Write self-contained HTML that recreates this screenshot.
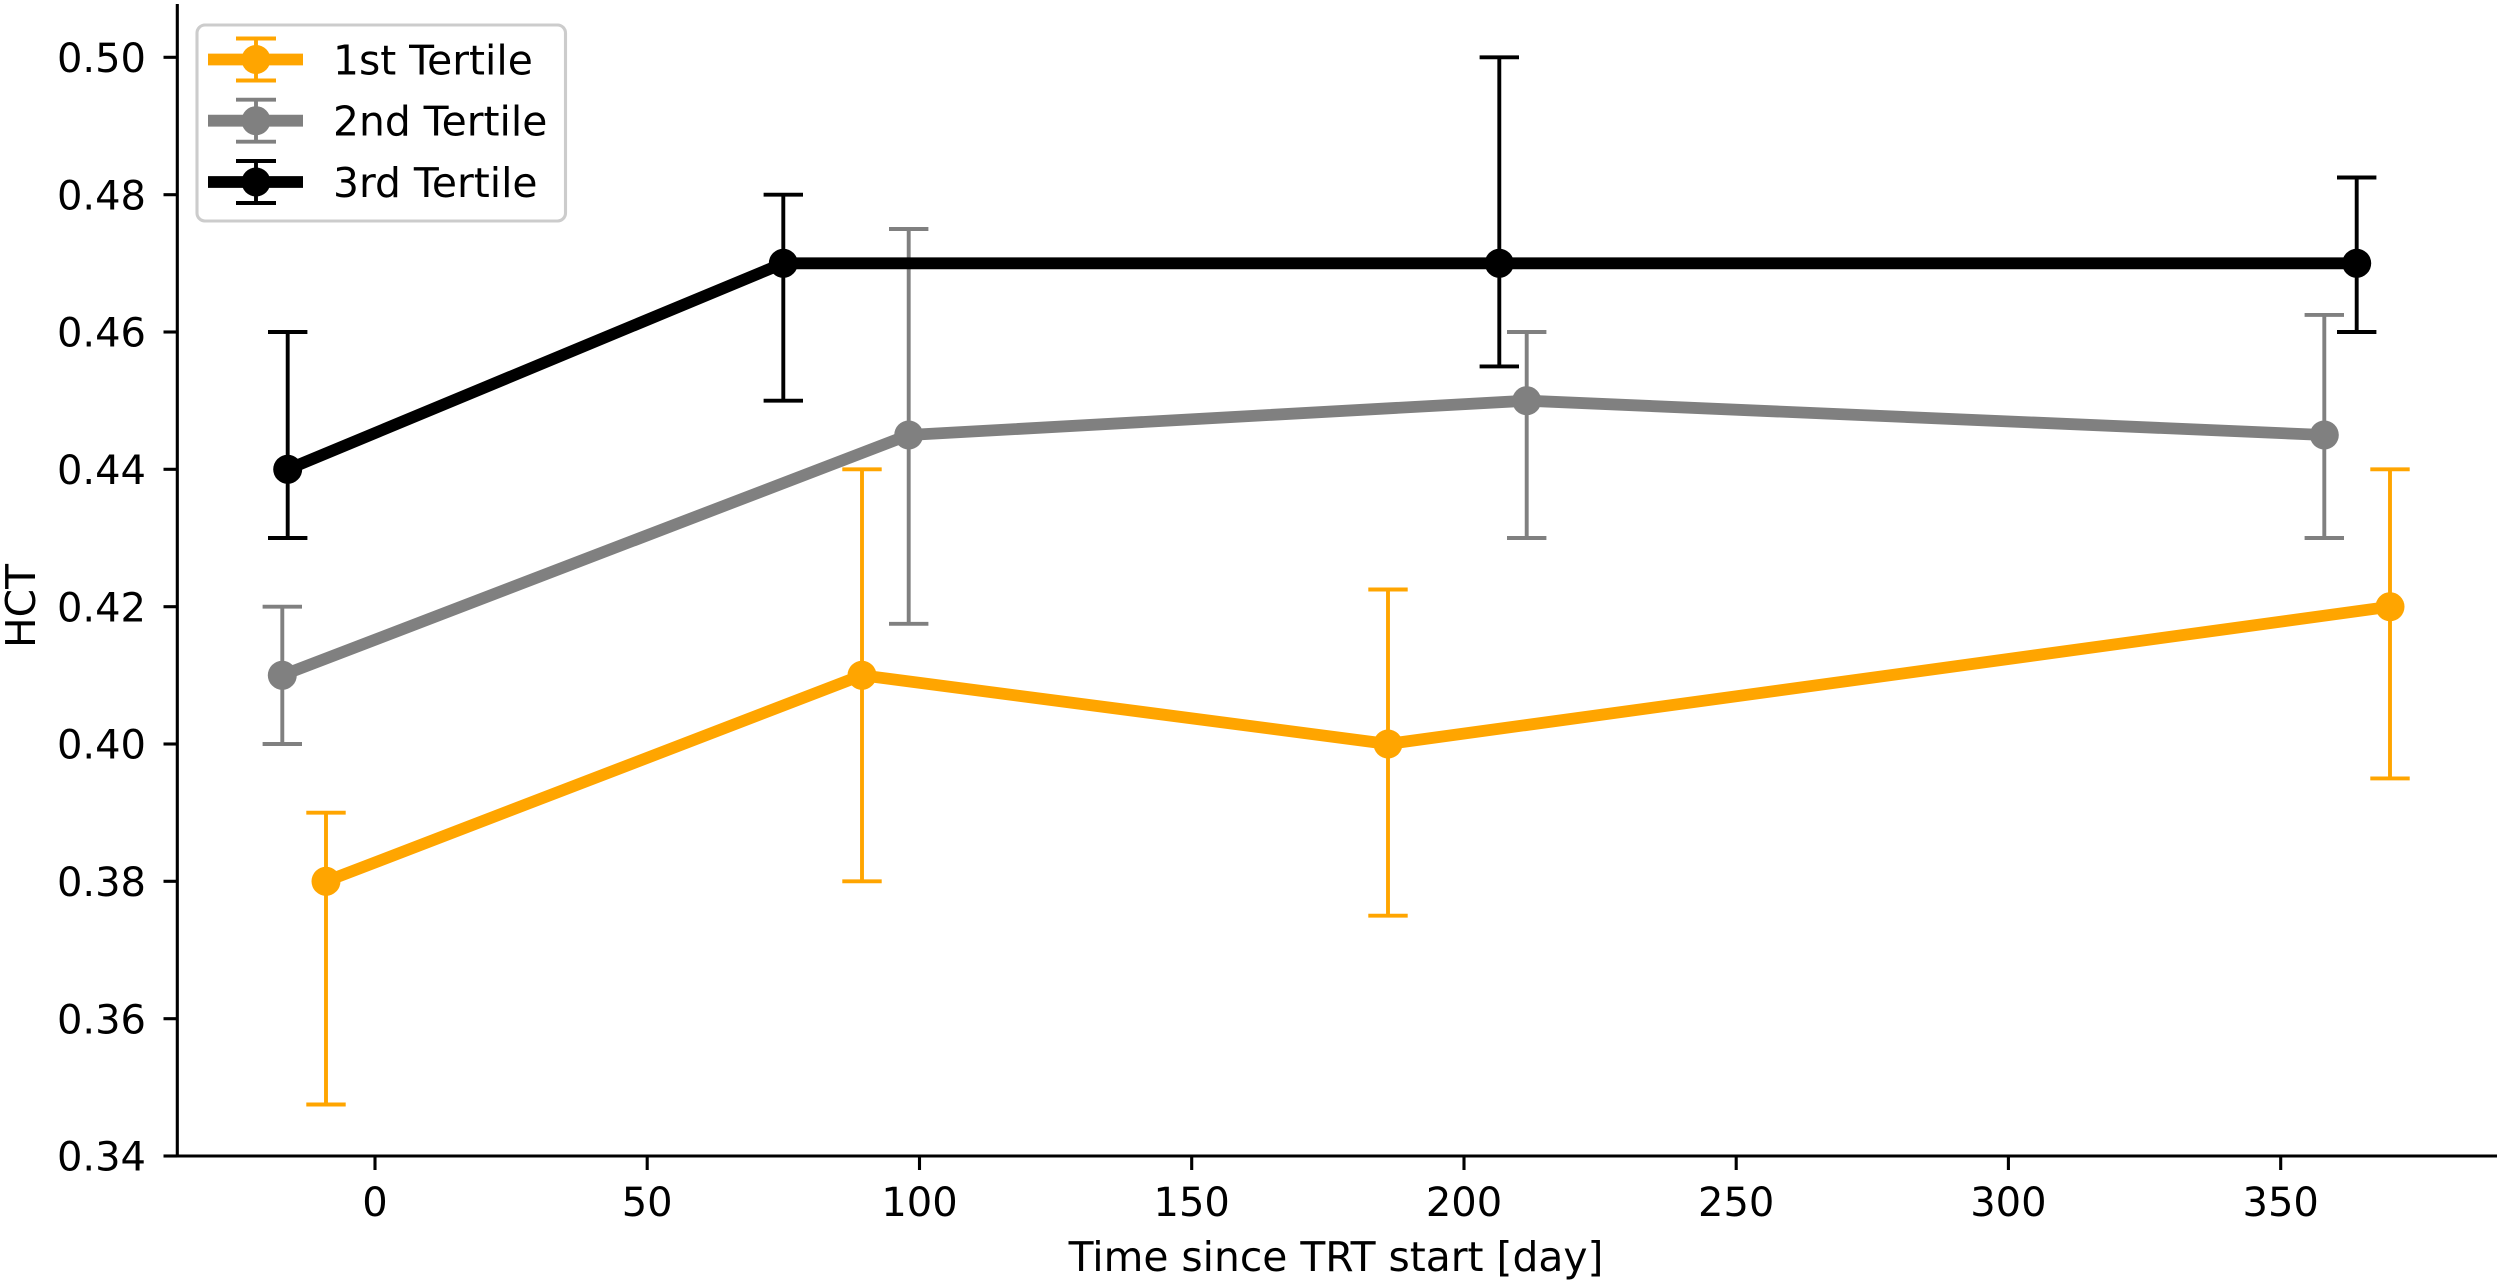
<!DOCTYPE html>
<html>
<head>
<meta charset="utf-8">
<style>
  html, body { margin: 0; padding: 0; background: #ffffff; }
  svg { display: block; }
  text { font-family: "DejaVu Sans", "Liberation Sans", sans-serif; fill: #000; }
</style>
</head>
<body>
<svg width="2500" height="1286" viewBox="0 0 2500 1286" xmlns="http://www.w3.org/2000/svg">
  <rect x="0" y="0" width="2500" height="1286" fill="#ffffff"/>

  <!-- Orange series (1st Tertile) -->
  <g stroke="#FFA500" stroke-width="3.9" fill="none">
    <line x1="326" y1="1104.5" x2="326" y2="812.7"/>
    <line x1="306.3" y1="1104.5" x2="345.7" y2="1104.5"/>
    <line x1="306.3" y1="812.7" x2="345.7" y2="812.7"/>
    <line x1="862" y1="881.3" x2="862" y2="469.3"/>
    <line x1="842.3" y1="881.3" x2="881.7" y2="881.3"/>
    <line x1="842.3" y1="469.3" x2="881.7" y2="469.3"/>
    <line x1="1388" y1="915.7" x2="1388" y2="589.5"/>
    <line x1="1368.3" y1="915.7" x2="1407.7" y2="915.7"/>
    <line x1="1368.3" y1="589.5" x2="1407.7" y2="589.5"/>
    <line x1="2390" y1="778.4" x2="2390" y2="469.3"/>
    <line x1="2370.3" y1="778.4" x2="2409.7" y2="778.4"/>
    <line x1="2370.3" y1="469.3" x2="2409.7" y2="469.3"/>
  </g>
  <polyline points="326,881.3 862,675.3 1388,744.0 2390,606.7" fill="none" stroke="#FFA500" stroke-width="11.8" stroke-linejoin="round"/>
  <g fill="#FFA500">
    <circle cx="326" cy="881.3" r="14.5"/>
    <circle cx="862" cy="675.3" r="14.5"/>
    <circle cx="1388" cy="744.0" r="14.5"/>
    <circle cx="2390" cy="606.7" r="14.5"/>
  </g>

  <!-- Gray series (2nd Tertile) -->
  <g stroke="#808080" stroke-width="3.9" fill="none">
    <line x1="282.3" y1="744.0" x2="282.3" y2="606.7"/>
    <line x1="262.6" y1="744.0" x2="302.0" y2="744.0"/>
    <line x1="262.6" y1="606.7" x2="302.0" y2="606.7"/>
    <line x1="908.7" y1="623.8" x2="908.7" y2="229.0"/>
    <line x1="889.0" y1="623.8" x2="928.4" y2="623.8"/>
    <line x1="889.0" y1="229.0" x2="928.4" y2="229.0"/>
    <line x1="1526.7" y1="538.0" x2="1526.7" y2="332.0"/>
    <line x1="1507.0" y1="538.0" x2="1546.4" y2="538.0"/>
    <line x1="1507.0" y1="332.0" x2="1546.4" y2="332.0"/>
    <line x1="2324.3" y1="538.0" x2="2324.3" y2="314.9"/>
    <line x1="2304.6" y1="538.0" x2="2344.0" y2="538.0"/>
    <line x1="2304.6" y1="314.9" x2="2344.0" y2="314.9"/>
  </g>
  <polyline points="282.3,675.3 908.7,435.0 1526.7,400.7 2324.3,435.0" fill="none" stroke="#808080" stroke-width="11.8" stroke-linejoin="round"/>
  <g fill="#808080">
    <circle cx="282.3" cy="675.3" r="14.5"/>
    <circle cx="908.7" cy="435.0" r="14.5"/>
    <circle cx="1526.7" cy="400.7" r="14.5"/>
    <circle cx="2324.3" cy="435.0" r="14.5"/>
  </g>

  <!-- Black series (3rd Tertile) -->
  <g stroke="#000000" stroke-width="3.9" fill="none">
    <line x1="287.7" y1="538.0" x2="287.7" y2="332.0"/>
    <line x1="268.0" y1="538.0" x2="307.4" y2="538.0"/>
    <line x1="268.0" y1="332.0" x2="307.4" y2="332.0"/>
    <line x1="783.3" y1="400.7" x2="783.3" y2="194.7"/>
    <line x1="763.6" y1="400.7" x2="803.0" y2="400.7"/>
    <line x1="763.6" y1="194.7" x2="803.0" y2="194.7"/>
    <line x1="1499.3" y1="366.4" x2="1499.3" y2="57.3"/>
    <line x1="1479.6" y1="366.4" x2="1519.0" y2="366.4"/>
    <line x1="1479.6" y1="57.3" x2="1519.0" y2="57.3"/>
    <line x1="2356.7" y1="332.0" x2="2356.7" y2="177.5"/>
    <line x1="2337.0" y1="332.0" x2="2376.4" y2="332.0"/>
    <line x1="2337.0" y1="177.5" x2="2376.4" y2="177.5"/>
  </g>
  <polyline points="287.7,469.3 783.3,263.3 1499.3,263.3 2356.7,263.3" fill="none" stroke="#000000" stroke-width="11.8" stroke-linejoin="round"/>
  <g fill="#000000">
    <circle cx="287.7" cy="469.3" r="14.5"/>
    <circle cx="783.3" cy="263.3" r="14.5"/>
    <circle cx="1499.3" cy="263.3" r="14.5"/>
    <circle cx="2356.7" cy="263.3" r="14.5"/>
  </g>

  <!-- Spines -->
  <line x1="177.3" y1="4" x2="177.3" y2="1157.5" stroke="#000" stroke-width="3.1"/>
  <line x1="175.8" y1="1156" x2="2497" y2="1156" stroke="#000" stroke-width="3.1"/>

  <!-- Y ticks -->
  <g stroke="#000" stroke-width="3.1">
    <line x1="163.5" y1="1156" x2="177.3" y2="1156"/>
    <line x1="163.5" y1="1018.7" x2="177.3" y2="1018.7"/>
    <line x1="163.5" y1="881.3" x2="177.3" y2="881.3"/>
    <line x1="163.5" y1="744.0" x2="177.3" y2="744.0"/>
    <line x1="163.5" y1="606.7" x2="177.3" y2="606.7"/>
    <line x1="163.5" y1="469.3" x2="177.3" y2="469.3"/>
    <line x1="163.5" y1="332.0" x2="177.3" y2="332.0"/>
    <line x1="163.5" y1="194.7" x2="177.3" y2="194.7"/>
    <line x1="163.5" y1="57.3" x2="177.3" y2="57.3"/>
  </g>
  <g font-size="40" text-anchor="end">
    <text x="146" y="1170.6">0.34</text>
    <text x="146" y="1033.3">0.36</text>
    <text x="146" y="895.9">0.38</text>
    <text x="146" y="758.6">0.40</text>
    <text x="146" y="621.3">0.42</text>
    <text x="146" y="483.9">0.44</text>
    <text x="146" y="346.6">0.46</text>
    <text x="146" y="209.3">0.48</text>
    <text x="146" y="71.9">0.50</text>
  </g>

  <!-- X ticks -->
  <g stroke="#000" stroke-width="3.1">
    <line x1="375" y1="1156" x2="375" y2="1170"/>
    <line x1="647.2" y1="1156" x2="647.2" y2="1170"/>
    <line x1="919.5" y1="1156" x2="919.5" y2="1170"/>
    <line x1="1191.7" y1="1156" x2="1191.7" y2="1170"/>
    <line x1="1464.0" y1="1156" x2="1464.0" y2="1170"/>
    <line x1="1736.2" y1="1156" x2="1736.2" y2="1170"/>
    <line x1="2008.4" y1="1156" x2="2008.4" y2="1170"/>
    <line x1="2280.7" y1="1156" x2="2280.7" y2="1170"/>
  </g>
  <g font-size="40" text-anchor="middle">
    <text x="375" y="1215.8">0</text>
    <text x="647.2" y="1215.8">50</text>
    <text x="919.5" y="1215.8">100</text>
    <text x="1191.7" y="1215.8">150</text>
    <text x="1464.0" y="1215.8">200</text>
    <text x="1736.2" y="1215.8">250</text>
    <text x="2008.4" y="1215.8">300</text>
    <text x="2280.7" y="1215.8">350</text>
  </g>

  <!-- Axis labels -->
  <text x="1336" y="1271" font-size="40.8" text-anchor="middle">Time since TRT start [day]</text>
  <text x="0" y="0" font-size="40.8" text-anchor="middle" transform="translate(35,606) rotate(-90)">HCT</text>

  <!-- Legend -->
  <rect x="197" y="25" width="368.5" height="196" rx="8" ry="8" fill="#ffffff" fill-opacity="0.8" stroke="#cccccc" stroke-width="3.1"/>

  <!-- Legend entry 1 -->
  <g stroke="#FFA500">
    <line x1="256" y1="38.5" x2="256" y2="80.5" stroke-width="3.9"/>
    <line x1="236" y1="38.5" x2="276" y2="38.5" stroke-width="3.9"/>
    <line x1="236" y1="80.5" x2="276" y2="80.5" stroke-width="3.9"/>
    <line x1="208" y1="59.5" x2="303" y2="59.5" stroke-width="11.8"/>
  </g>
  <circle cx="256" cy="59.5" r="14.5" fill="#FFA500"/>
  <text x="333" y="74.3" font-size="40.8">1st Tertile</text>

  <!-- Legend entry 2 -->
  <g stroke="#808080">
    <line x1="256" y1="99.7" x2="256" y2="141.7" stroke-width="3.9"/>
    <line x1="236" y1="99.7" x2="276" y2="99.7" stroke-width="3.9"/>
    <line x1="236" y1="141.7" x2="276" y2="141.7" stroke-width="3.9"/>
    <line x1="208" y1="120.7" x2="303" y2="120.7" stroke-width="11.8"/>
  </g>
  <circle cx="256" cy="120.7" r="14.5" fill="#808080"/>
  <text x="333" y="135.5" font-size="40.8">2nd Tertile</text>

  <!-- Legend entry 3 -->
  <g stroke="#000000">
    <line x1="256" y1="161" x2="256" y2="203" stroke-width="3.9"/>
    <line x1="236" y1="161" x2="276" y2="161" stroke-width="3.9"/>
    <line x1="236" y1="203" x2="276" y2="203" stroke-width="3.9"/>
    <line x1="208" y1="182" x2="303" y2="182" stroke-width="11.8"/>
  </g>
  <circle cx="256" cy="182" r="14.5" fill="#000000"/>
  <text x="333" y="196.8" font-size="40.8">3rd Tertile</text>
</svg>
</body>
</html>
